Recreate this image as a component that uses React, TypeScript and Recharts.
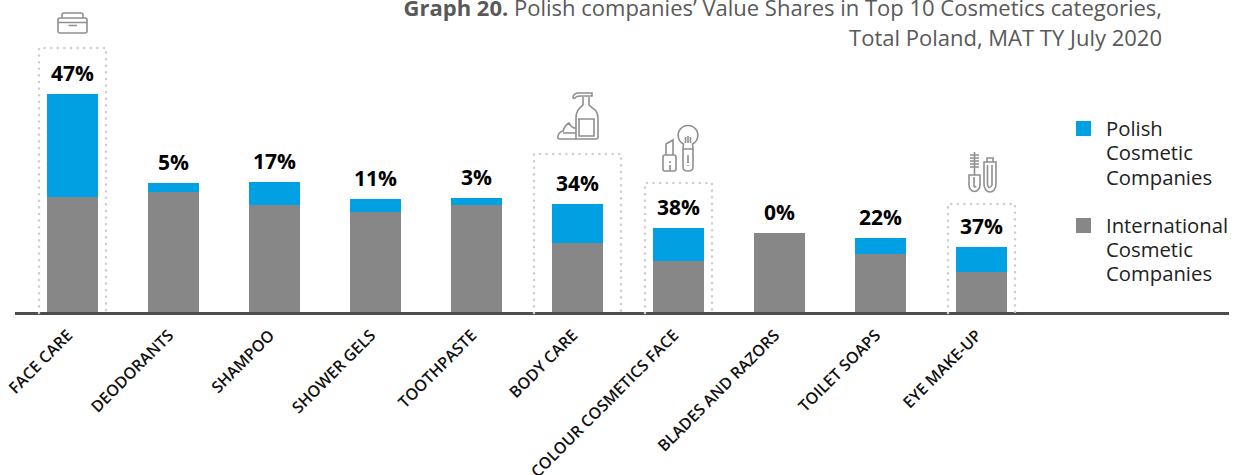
import { ComposedChart, Bar, Line, XAxis, YAxis, LabelList } from "recharts"

const categories = [
  "FACE CARE", "DEODORANTS", "SHAMPOO", "SHOWER GELS", "TOOTHPASTE",
  "BODY CARE", "COLOUR COSMETICS FACE", "BLADES AND RAZORS", "TOILET SOAPS", "EYE MAKE-UP",
]
const international = [116.5, 121.5, 108.5, 101.5, 108.5, 70.5, 52.5, 80.5, 59.5, 41.5]
const polish = [103, 9, 23, 13, 7, 39, 33, 0, 16, 25]
const shareLabels = ["47%", "5%", "17%", "11%", "3%", "34%", "38%", "0%", "22%", "37%"]
// top of the dotted highlight frames, on the same scale as the bars
const frameTops = [265.5, null, null, null, null, 159.5, 130.5, null, null, 109.5]
const legendItems = ["Polish Cosmetic Companies", "International Cosmetic Companies"]

const FONT = "'Open Sans', 'Noto Sans', sans-serif"
const BLUE = "#00a0e3"
const GRAY = "#878787"

const data = categories.map((name, i) => ({
  name,
  international: international[i],
  polish: polish[i],
  total: international[i] + polish[i],
  label: shareLabels[i],
  frameTop: frameTops[i],
}))

// hand drawn line icons, ox/oy is the top middle of the frame they sit on
const ICONS: Record<number, { ox: number; oy: number; d: string }> = {
  0: {
    ox: 72.5, oy: 48,
    d: "M58 20Q58 18 60 18H85Q87 18 87 20V31Q87 33 85 33H60Q58 33 58 31Z M58 22.5H87 M62 18V15Q62 13 64 13H81Q83 13 83 15V18 M68.5 25.5H77",
  },
  5: {
    ox: 577.5, oy: 154,
    d: "M583 97V105C580 108 576 110 576 118V139 M589 97V105C592 108 598 110 598 118V137Q598 139 596 139H560Q557 139 558 136Q559 132 563 131Q565 125 569 123Q571 127 574 128L576 128 M563 133H576 M592 93H579C575 93 573 95 573 98Q575 99 576 97C577 96 579 96 581 96H592Z M579 119H594V136H579Z",
  },
  6: {
    ox: 678.5, oy: 183,
    d: "M666 155V144L673 140V155 M663 157Q663 155 665 155H674Q676 155 676 157V169Q676 171 674 171H665Q663 171 663 169Z M670 161V163 M670 165V171 M683.5 144A9.8 9.8 0 1 1 692.5 144L693 148V167Q693 171 688 171Q683 171 683 167V148Z M683 149H693 M685.5 143V137 M688 143V136 M690.5 143V137 M688 155V163 M688 165V166",
  },
  9: {
    ox: 981.5, oy: 204,
    d: "M974.5 152V175 M970 155H979 M970 158H979 M970 161H979 M970 164H979 M970 167H979 M969 175H980V185A5.5 6.5 0 0 1 969 185Z M974 177V186Q974.5 188 976 186 M984 162H996V184A6 8 0 0 1 984 184Z M987 162V158H993V162 M987.5 165V185Q989.5 190 992 185V165",
  },
}

function FrameDot({ cx, cy, index }: any) {
  const icon = ICONS[index]
  if (cy == null || !icon) return <g key={index} />
  const half = index === 5 ? 43.5 : 33.5
  const bottom = 313
  return (
    <g key={index}>
      <path
        d={`M${cx - half} ${bottom}V${cy}H${cx + half}V${bottom}`}
        fill="none"
        stroke="#cfcfcf"
        strokeWidth={2.6}
        strokeLinecap="round"
        strokeDasharray="0 6.6"
      />
      <path
        d={icon.d}
        transform={`translate(${cx - icon.ox},${cy - icon.oy})`}
        fill="none"
        stroke="#8f8f8f"
        strokeWidth={1.6}
      />
    </g>
  )
}

function LegendBox() {
  return (
    <div style={{ position: "absolute", left: 1076, top: 116, fontFamily: FONT, fontSize: 20.3, lineHeight: "24.3px", color: "#222" }}>
      {legendItems.map((name, i) => (
        <div key={name} style={{ display: "flex", marginBottom: 24 }}>
          <div style={{ width: 15, height: 15, marginTop: 5, marginRight: 15, background: i === 0 ? BLUE : GRAY, flex: "none" }} />
          <div style={{ width: 130 }}>{name}</div>
        </div>
      ))}
    </div>
  )
}

export default function App() {
  return (
    <div style={{ position: "absolute", left: 0, top: 0, width: 1241, height: 475, overflow: "hidden", background: "#fff" }}>
      <div
        style={{
          position: "absolute", right: 79, top: -8, width: 900, textAlign: "right",
          fontFamily: FONT, fontSize: 22, lineHeight: "30px", color: "#595959",
        }}
      >
        <b>Graph 20.</b> Polish companies’ Value Shares in Top 10 Cosmetics categories,
        <br />
        Total Poland, MAT TY July 2020
      </div>
      <ComposedChart
        width={1241}
        height={475}
        data={data}
        barSize={51}
        margin={{ top: 13.5, right: 12, bottom: 0, left: 15 }}
      >
        <XAxis
          dataKey="name"
          height={161.5}
          padding={{ left: 7, right: 197 }}
          interval={0}
          angle={-45}
          textAnchor="end"
          tickLine={false}
          tickMargin={9}
          axisLine={{ stroke: "#4d4d4d", strokeWidth: 3 }}
          tick={{ dx: -7, fontSize: 16, fontFamily: FONT, fontWeight: 600, fill: "#111" }}
        />
        <YAxis hide domain={[0, 300]} />
        <Bar dataKey="international" stackId="a" fill={GRAY} isAnimationActive={false} />
        <Bar dataKey="polish" stackId="a" fill={BLUE} isAnimationActive={false} />
        {/* labels sit on an invisible line so the 0% bar keeps its label */}
        <Line dataKey="total" stroke="none" dot={false} activeDot={false} isAnimationActive={false}>
          <LabelList
            dataKey="label"
            position="top"
            offset={13}
            style={{ fontSize: 21, fontFamily: FONT, fontWeight: 700, fill: "#000" }}
          />
        </Line>
        <Line
          dataKey="frameTop"
          stroke="none"
          isAnimationActive={false}
          dot={(p: any) => <FrameDot {...p} />}
          activeDot={false}
        />
      </ComposedChart>
      <LegendBox />
    </div>
  )
}
